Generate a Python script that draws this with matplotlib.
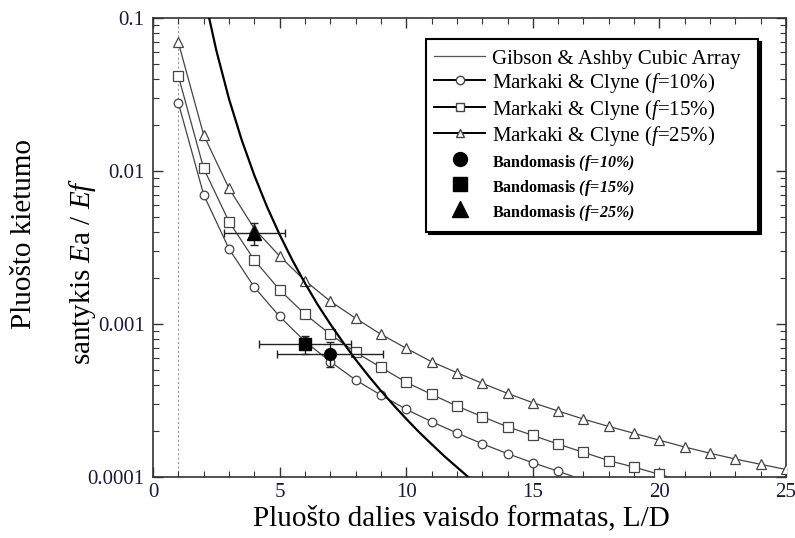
import matplotlib
matplotlib.use('Agg')
import matplotlib.pyplot as plt
from matplotlib.lines import Line2D
from matplotlib.ticker import LogLocator, NullFormatter, FixedLocator

plt.rcParams.update({
    'font.family': ['Liberation Serif', 'DejaVu Serif'],
    'mathtext.fontset': 'custom',
    'mathtext.rm': 'Liberation Serif',
    'mathtext.it': 'Liberation Serif:italic',
    'mathtext.bf': 'Liberation Serif:bold',
    'mathtext.bfit': 'Liberation Serif:bold:italic',
})

# ---------------- data ----------------
# Markaki & Clyne model curves (L/D = 1, 2, 3, ...)
mc10_x = list(range(1, 18))
mc10_y = [0.0279, 0.00700, 0.00310, 0.00174, 0.00112, 0.00077, 0.000568, 0.000431,
          0.000343, 0.000277, 0.000230, 0.000194, 0.000165, 0.000142, 0.000124,
          0.000109, 0.0000955]
mc15_x = list(range(1, 22))
mc15_y = [0.0418, 0.0104, 0.00467, 0.00262, 0.00167, 0.00116, 0.000857, 0.000653,
          0.000521, 0.000416, 0.000347, 0.000291, 0.000248, 0.000213, 0.000187,
          0.000164, 0.000145, 0.000128, 0.000116, 0.000104, 0.0000935]
mc25_x = list(range(1, 26))
mc25_y = [0.0693, 0.0172, 0.0077, 0.0042, 0.00278, 0.00192, 0.00141, 0.00109,
          0.000857, 0.000694, 0.000567, 0.000481, 0.000410, 0.000352, 0.000306,
          0.000270, 0.000239, 0.000214, 0.000193, 0.000174, 0.000157, 0.000143,
          0.000131, 0.000121, 0.000112]

# Gibson & Ashby cubic array curve
ga_x = [2.2, 2.5, 3, 3.5, 4, 4.5, 5, 5.5, 6, 6.5, 7, 7.5, 8, 8.5, 9, 9.5, 10,
        10.5, 11, 11.5, 12, 12.5]
ga_y = [0.103, 0.0614, 0.0296, 0.0160, 0.00938, 0.00585, 0.00384, 0.00262,
        0.00185, 0.00134, 0.00100, 0.00076, 0.000586, 0.000460, 0.000366,
        0.000295, 0.000240, 0.000197, 0.000164, 0.000137, 0.000116, 0.0000983]

# Experimental points (Bandomasis) f = 10 %, 15 %, 25 %
exp_x = [7, 6, 4]
exp_y = [0.00064, 0.00074, 0.00395]
exp_xerr = [2.1, 1.8, 1.2]
exp_yerr = [0.00012, 0.00010, 0.00065]

x_ticks = [0, 5, 10, 15, 20, 25]
y_ticks = [0.0001, 0.001, 0.01, 0.1]
y_tick_labels = ['0.0001', '0.001', '0.01', '0.1']

legend_labels = ['Gibson & Ashby Cubic Array',
                 'Markaki & Clyne ($\\mathit{f}$=10%)',
                 'Markaki & Clyne ($\\mathit{f}$=15%)',
                 'Markaki & Clyne ($\\mathit{f}$=25%)',
                 'Bandomasis $\\mathbfit{(f\\!=\\!10\\%)}$',
                 'Bandomasis $\\mathbfit{(f\\!=\\!15\\%)}$',
                 'Bandomasis $\\mathbfit{(f\\!=\\!25\\%)}$']

# ---------------- figure ----------------
fig = plt.figure(figsize=(7.95, 5.38), dpi=100)
ax = fig.add_axes([0.1925, 0.1134, 0.7962, 0.853])
ax.set_yscale('log')
ax.set_xlim(0, 25)
ax.set_ylim(1e-4, 0.1)

ax.axvline(1, color='#9a9a9a', ls=(0, (2, 2)), lw=0.8, zorder=1)

ymin = 1e-4
line_col = '#444444'
for xs, ys, mk, ms in [(mc10_x, mc10_y, 'o', 6.2),
                       (mc15_x, mc15_y, 's', 6.5),
                       (mc25_x, mc25_y, '^', 7.2)]:
    vis = [i for i, v in enumerate(ys) if v >= ymin]
    ax.plot(xs, ys, color=line_col, lw=0.9, marker=mk, ms=ms, mfc='white',
            mec=line_col, mew=0.9, markevery=vis, zorder=3)

ax.plot(ga_x, ga_y, color='black', lw=1.6, zorder=4)

exp_markers = ['o', 's', '^']
exp_ms = [8.5, 9, 10]
for i in range(3):
    ax.errorbar([exp_x[i]], [exp_y[i]], xerr=[exp_xerr[i]], yerr=[exp_yerr[i]],
                fmt=exp_markers[i], ms=exp_ms[i], color='black', ecolor='#222222',
                elinewidth=1.0, capsize=3, capthick=1.0, zorder=5)

# ticks
ax.xaxis.set_major_locator(FixedLocator(x_ticks))
ax.xaxis.set_minor_locator(FixedLocator(list(range(0, 26))))
ax.set_xticklabels([str(t) for t in x_ticks])
ax.yaxis.set_major_locator(FixedLocator(y_ticks))
ax.set_yticklabels(y_tick_labels)
ax.yaxis.set_minor_locator(LogLocator(base=10, subs=range(2, 10)))
ax.yaxis.set_minor_formatter(NullFormatter())
ax.tick_params(which='both', direction='in', top=True, right=True,
               color='#333333', labelcolor='#1a1a38', labelsize=15)
ax.tick_params(which='major', length=7, width=1.0)
ax.tick_params(which='minor', length=4, width=0.8)
ax.tick_params(axis='x', pad=4)
ax.tick_params(axis='y', pad=6)
for sp in ax.spines.values():
    sp.set_color('#333333')
    sp.set_linewidth(1.2)

# axis titles
fig.text(24 / 795, 1 - 234 / 538, 'Pluošto kietumo', rotation=90, fontsize=21,
         ha='center', va='center')
fig.text(82 / 795, 1 - 271 / 538, 'santykis $\\mathit{E}$a / $\\mathit{Ef}$',
         rotation=90, fontsize=21, ha='center', va='center')
fig.text(461 / 795, 1 - 518 / 538, 'Pluošto dalies vaisdo formatas, L/D',
         fontsize=21, ha='center', va='center')

# legend
handles = [Line2D([], [], color='#555555', lw=0.9),
           Line2D([], [], color='black', lw=1.4, marker='o', ms=6, mfc='white', mec='#444444'),
           Line2D([], [], color='black', lw=1.4, marker='s', ms=6, mfc='white', mec='#444444'),
           Line2D([], [], color='black', lw=1.4, marker='^', ms=6, mfc='white', mec='#444444'),
           Line2D([], [], ls='none', marker='o', ms=10, color='black'),
           Line2D([], [], ls='none', marker='s', ms=10, color='black'),
           Line2D([], [], ls='none', marker='^', ms=11, color='black')]
x0 = (426 - 153) / 633
w = (758 - 426) / 633
top = (477 - 39) / 459
leg = ax.legend(handles, legend_labels, loc='upper left',
                bbox_to_anchor=(x0, top - 0.5, w, 0.5), mode='expand',
                borderaxespad=0, fontsize=15, handlelength=2.45, handleheight=1.0,
                handletextpad=0.3, labelspacing=0.12, borderpad=0.4,
                frameon=True, fancybox=False, edgecolor='black', framealpha=1,
                shadow={'color': 'black', 'alpha': 1})
leg.get_frame().set_linewidth(1.5)
for t in leg.get_texts()[4:]:
    t.set_fontsize(11.5)
    t.set_fontweight('bold')
leg.set_zorder(10)

fig.savefig('out.png', dpi=100)
